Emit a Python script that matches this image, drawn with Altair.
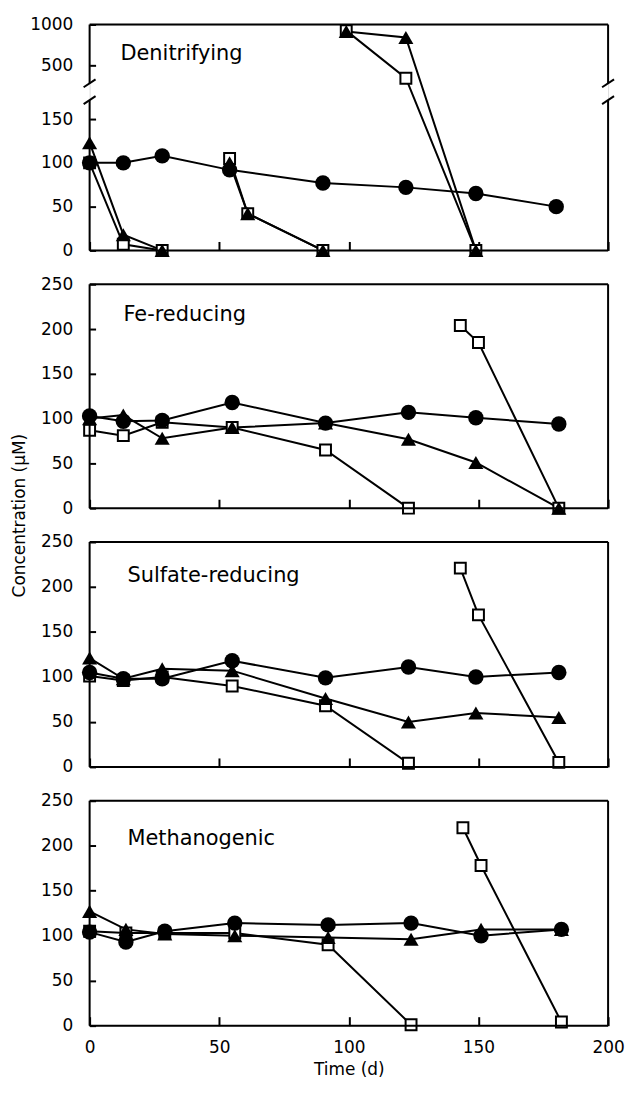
import altair as alt
import pandas as pd

# ---------------- data ----------------
panel_names = ["Denitrifying", "Fe-reducing", "Sulfate-reducing", "Methanogenic"]

# Denitrifying
den_circle_t = [0, 13, 28, 54, 90, 122, 149, 180]
den_circle_v = [100, 100, 108, 92, 77, 72, 65, 50]
den_tri_seg = [1, 1, 1, 2, 2, 2, 3, 3, 3]
den_tri_t = [0, 13, 28, 54, 61, 90, 99, 122, 149]
den_tri_v = [123, 18, 0, 100, 42, 0, 915, 841, 0]
den_sq_seg = [1, 1, 1, 2, 2, 2, 3, 3, 3]
den_sq_t = [0, 13, 28, 54, 61, 90, 99, 122, 149]
den_sq_v = [100, 7, 0, 105, 42, 0, 925, 416, 0]

# Fe-reducing
fe_t = [0, 13, 28, 55, 91, 123, 149, 181]
fe_circle_v = [103, 97, 98, 118, 95, 107, 101, 94]
fe_tri_v = [100, 104, 78, 90, 95, 77, 51, 0]
fe_sq_seg = [1, 1, 1, 1, 1, 1, 2, 2, 2]
fe_sq_t = [0, 13, 28, 55, 91, 123, 143, 150, 181]
fe_sq_v = [87, 81, 96, 90, 65, 0, 204, 185, 0]

# Sulfate-reducing
su_t = [0, 13, 28, 55, 91, 123, 149, 181]
su_circle_v = [105, 98, 98, 118, 99, 111, 100, 105]
su_tri_v = [121, 98, 109, 107, 76, 50, 60, 55]
su_sq_seg = [1, 1, 1, 1, 1, 1, 2, 2, 2]
su_sq_t = [0, 13, 28, 55, 91, 123, 143, 150, 181]
su_sq_v = [101, 96, 100, 90, 68, 4, 221, 169, 5]

# Methanogenic
me_t = [0, 14, 29, 56, 92, 124, 151, 182]
me_circle_v = [104, 93, 105, 114, 112, 114, 100, 107]
me_tri_v = [127, 107, 102, 100, 98, 96, 107, 107]
me_sq_seg = [1, 1, 1, 1, 1, 1, 2, 2, 2]
me_sq_t = [0, 14, 29, 56, 92, 124, 144, 151, 182]
me_sq_v = [105, 103, 103, 103, 90, 1, 220, 178, 4]

x_ticks = [0, 50, 100, 150, 200]
den_y_ticks = [0, 50, 100, 150, 500, 1000]
y_ticks = [0, 50, 100, 150, 200, 250]

# broken axis of the top panel
den_domain = [0, 150, 500, 1000]
den_range = [227, 95, 41, 0]
den_break = [273, 383]

# panel-label placement (px from the plot's top-left)
label_x = [31, 34, 38, 38]
label_y = [36, 37, 40, 44]
panel_heights = [227, 225, 226, 226]
PW = 521
LW = 2.0
FONT = "DejaVu Sans"


def build_df(series, seg, t, v):
    return pd.DataFrame({
        "series": series,
        "seg": [f"{series}{s}" for s in seg],
        "t": t,
        "v": v,
    })


def panel_data(i):
    if i == 0:
        c = build_df("circle", [1] * len(den_circle_t), den_circle_t, den_circle_v)
        tr = build_df("triangle", den_tri_seg, den_tri_t, den_tri_v)
        sq = build_df("square", den_sq_seg, den_sq_t, den_sq_v)
    else:
        t, cv, tv, sseg, st, sv = [
            None,
            (fe_t, fe_circle_v, fe_tri_v, fe_sq_seg, fe_sq_t, fe_sq_v),
            (su_t, su_circle_v, su_tri_v, su_sq_seg, su_sq_t, su_sq_v),
            (me_t, me_circle_v, me_tri_v, me_sq_seg, me_sq_t, me_sq_v),
        ][i]
        c = build_df("circle", [1] * len(t), t, cv)
        tr = build_df("triangle", [1] * len(t), t, tv)
        sq = build_df("square", sseg, st, sv)
    return pd.concat([c, tr, sq], ignore_index=True)


def make_panel(i):
    df = panel_data(i)
    bottom = i == 3
    if i == 0:
        yscale = alt.Scale(domain=den_domain, range=den_range, nice=False, zero=False)
        yvals = den_y_ticks
        ymax = den_domain[-1]
    else:
        yscale = alt.Scale(domain=[0, 250], nice=False, zero=False)
        yvals = y_ticks
        ymax = 250
    xscale = alt.Scale(domain=[0, 200], nice=False, zero=False)

    yaxis_kw = dict(values=yvals, format="d", domain=False, grid=False, offset=-6, tickSize=6,
                    tickWidth=LW, tickColor="black", labelFontSize=17, labelColor="black",
                    labelPadding=17, labelFlush=False, labelOverlap=False, labelFont=FONT)
    if i == 1:
        yaxis = alt.Axis(title="Concentration (μM)", titleFontSize=17, titleFont=FONT,
                         titleFontWeight="normal", titleColor="black",
                         titleAlign="center", titleBaseline="middle",
                         titleX=-76, titleY=232, **yaxis_kw)
    else:
        yaxis = alt.Axis(title=None, **yaxis_kw)

    xaxis_kw = dict(values=x_ticks, format="d", domain=False, grid=False, offset=-9, tickSize=9,
                    tickWidth=LW, tickColor="black", labelFlush=False, labelOverlap=False)
    if bottom:
        xaxis = alt.Axis(title="Time (d)", titleFontSize=17, titleFont=FONT,
                         titleFontWeight="normal", titleColor="black", titlePadding=6,
                         labels=True, labelFontSize=17, labelColor="black",
                         labelPadding=14, labelFont=FONT, **xaxis_kw)
    else:
        xaxis = alt.Axis(title=None, labels=False, **xaxis_kw)

    base = alt.Chart(df)
    X = alt.X("t:Q", scale=xscale, axis=xaxis)
    Y = alt.Y("v:Q", scale=yscale, axis=yaxis)

    lines = base.mark_line(color="black", strokeWidth=LW).encode(
        x=X, y=Y, detail="seg:N", order="t:Q")
    squares = base.transform_filter(alt.datum.series == "square").mark_point(
        shape="square", filled=True, fill="white", stroke="black", strokeWidth=LW,
        size=120, opacity=1).encode(x="t:Q", y="v:Q")
    tris = base.transform_filter(alt.datum.series == "triangle").mark_point(
        shape="triangle-up", filled=True, color="black", size=230, opacity=1).encode(
        x="t:Q", y="v:Q")
    circles = base.transform_filter(alt.datum.series == "circle").mark_point(
        shape="circle", filled=True, color="black", size=240, opacity=1).encode(
        x="t:Q", y="v:Q")

    # frame
    if i == 0:
        frame = pd.DataFrame({
            "x": [0, 0, 0, 0, 200, 200],
            "x2": [200, 200, 0, 0, 200, 200],
            "y": [0, ymax, 0, den_break[1], 0, den_break[1]],
            "y2": [0, ymax, den_break[0], ymax, den_break[0], ymax],
        })
    else:
        frame = pd.DataFrame({
            "x": [0, 0, 0, 200],
            "x2": [200, 200, 0, 200],
            "y": [0, ymax, 0, 0],
            "y2": [0, ymax, ymax, ymax],
        })
    frame_layer = alt.Chart(frame).mark_rule(color="black", strokeWidth=LW).encode(
        x="x:Q", x2="x2:Q", y="y:Q", y2="y2:Q")

    label = alt.Chart(pd.DataFrame({"name": [panel_names[i]]})).mark_text(
        align="left", baseline="alphabetic", fontSize=21, font=FONT, color="black").encode(
        x=alt.value(label_x[i]), y=alt.value(label_y[i]), text="name:N")

    layers = [lines, squares, tris, circles, frame_layer, label]
    if i == 0:
        brk = pd.DataFrame({"x": [0, 0, 200, 200],
                            "y": [den_break[0], den_break[1], den_break[0], den_break[1]]})
        brk_layer = alt.Chart(brk).mark_rule(
            color="black", strokeWidth=LW, xOffset=-6, x2Offset=6, yOffset=4, y2Offset=-4
        ).encode(x="x:Q", x2="x:Q", y="y:Q", y2="y:Q")
        layers.append(brk_layer)

    return alt.layer(*layers).properties(width=PW, height=panel_heights[i])


chart = alt.vconcat(*[make_panel(i) for i in range(4)], spacing=34, bounds="flush").configure_view(
    strokeWidth=0).configure(font=FONT).properties(
    padding={"left": 2, "top": 4, "right": 0, "bottom": -1}, background="white")

chart.save("out.html", embed_options={"renderer": "svg", "actions": False})
